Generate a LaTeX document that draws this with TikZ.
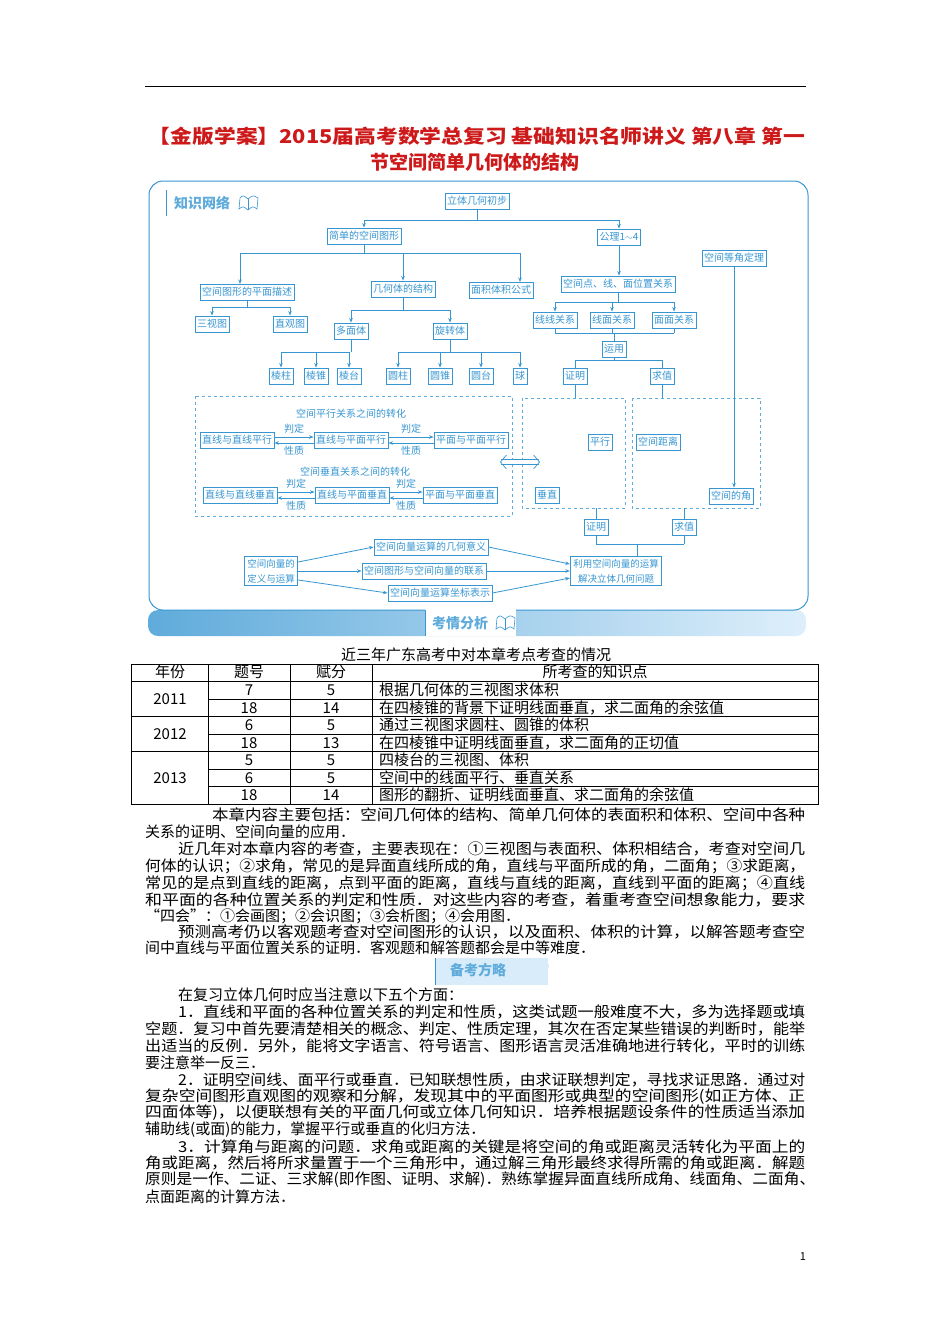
\documentclass[tikz,border=0pt]{standalone}
\usepackage{fontspec}
\usepackage{graphicx}
\newfontfamily\cjk{Noto Sans CJK SC}
\setmainfont{Noto Sans CJK SC}
\usetikzlibrary{arrows.meta,shadings}
\definecolor{dblue}{RGB}{55,150,210}
\definecolor{lblue}{RGB}{200,228,248}
\definecolor{tred}{RGB}{205,25,25}
\newcommand\fline[2]{\resizebox{#1pt}{\height}{#2}}
\begin{document}
\begin{tikzpicture}[x=1pt,y=-1pt,
 box/.style={draw=dblue,line width=0.9pt,fill=white,text=dblue,font=\fontsize{10}{11}\selectfont,inner sep=2pt,minimum height=16pt},
 arr/.style={-{Stealth[length=4.5pt,width=3.5pt]},dblue,line width=0.8pt},
 ln/.style={dblue,line width=0.8pt},
 dbox/.style={draw=dblue!80,dashed,line width=0.8pt},
 lab/.style={text=dblue,font=\fontsize{10}{11}\selectfont,inner sep=0pt},
 body/.style={anchor=west,inner sep=0pt,font=\fontsize{15}{17}\selectfont},
 cell/.style={inner sep=0pt,font=\fontsize{15}{17}\selectfont}]
\useasboundingbox (0,0) rectangle (950,1344);
\fill[white] (0,0) rectangle (950,1344);
% top rule
\draw[line width=0.7pt] (145,86) -- (806,86);
% title
\node[text=tred,font=\bfseries\fontsize{19}{22}\selectfont,inner sep=0pt] (t1) at (477,136) {\fline{656}{【金版学案】2015届高考数学总复习 基础知识名师讲义 第八章 第一}};
\node[text=tred,font=\bfseries\fontsize{19}{22}\selectfont,inner sep=0pt] (t2) at (475,162) {节空间简单几何体的结构};
% frame
\shade[left color=dblue!80,right color=lblue!60,rounded corners=10pt] (148,610) rectangle (806,636);
\draw[dblue,line width=1pt,rounded corners=14pt,fill=white] (149,181) rectangle (808,610);
\fill[white] (425,607) rectangle (516,636);
\draw[dblue,line width=0.8pt] (425,610) -- (425,636);
\node[text=dblue!80,font=\bfseries\fontsize{14}{16}\selectfont] (kq) at (460,623) {考情分析};
\node[text=dblue!80,font=\bfseries\fontsize{14}{16}\selectfont] (zs) at (202,203) {知识网络};
\draw[dblue,line width=1pt] (166,190) -- (166,216);
% book icons
\foreach \bx/\by in {248/203,505/623,538/970}{
 \draw[dblue,line width=0.6pt,fill=white] (\bx-9,\by+6) .. controls (\bx-5,\by+3) .. (\bx,\by+7) .. controls (\bx+5,\by+3) .. (\bx+9,\by+6) -- (\bx+10,\by-5) .. controls (\bx+5,\by-8) .. (\bx,\by-4) .. controls (\bx-5,\by-8) .. (\bx-8,\by-5) -- cycle;
 \draw[dblue,line width=0.6pt] (\bx,\by-4) -- (\bx,\by+7);}
% network nodes
\node[box] (lt) at (477,201) {立体几何初步};
\node[box] (jd) at (364,236) {简单的空间图形};
\node[box] (gl) at (619,237) {公理1$\sim$4};
\node[box] (dj) at (734,258) {空间等角定理};
\node[box] (pm) at (247,292) {空间图形的平面描述};
\node[box] (jg) at (403,289) {几何体的结构};
\node[box] (mj) at (501,290) {面积体积公式};
\node[box] (wz) at (618,284) {空间点、线、面位置关系};
\node[box] (sv) at (212,324) {三视图};
\node[box] (zg) at (290,324) {直观图};
\node[box] (dm) at (351,331) {多面体};
\node[box] (xz) at (450,331) {旋转体};
\node[box] (xx) at (555,320) {线线关系};
\node[box] (xm) at (612,320) {线面关系};
\node[box] (mm) at (674,320) {面面关系};
\node[box] (yy) at (614,349) {运用};
\node[box] (lz) at (281,376) {棱柱};
\node[box] (lzh) at (316,376) {棱锥};
\node[box] (lta) at (349,376) {棱台};
\node[box] (yz) at (398,376) {圆柱};
\node[box] (yzh) at (440,376) {圆锥};
\node[box] (yt) at (481,376) {圆台};
\node[box] (qiu) at (520,376) {球};
\node[box] (zm) at (575,376) {证明};
\node[box] (qz) at (662,376) {求值};
% tree connectors
\draw[ln] (lt.south) -- (lt.south |- 0,220);
\draw[ln] (jd.north |- 0,220) -- (gl.north |- 0,220);
\draw[arr] (jd.north |- 0,220) -- (jd.north);
\draw[arr] (gl.north |- 0,220) -- (gl.north);
\draw[ln] (jd.south) -- (jd.south |- 0,253);
\draw[ln] (240,253) -- (520,253);
\draw[arr] (240,253) -- (240,284);
\draw[arr] (jg.north |- 0,253) -- (jg.north);
\draw[arr] (520,253) -- (520,282);
\draw[ln] (pm.south) -- (pm.south |- 0,307);
\draw[ln] (sv.north |- 0,307) -- (zg.north |- 0,307);
\draw[arr] (sv.north |- 0,307) -- (sv.north);
\draw[arr] (zg.north |- 0,307) -- (zg.north);
\draw[ln] (jg.south) -- (jg.south |- 0,310);
\draw[ln] (dm.north |- 0,310) -- (xz.north |- 0,310);
\draw[arr] (dm.north |- 0,310) -- (dm.north);
\draw[arr] (xz.north |- 0,310) -- (xz.north);
\draw[ln] (dm.south) -- (dm.south |- 0,352);
\draw[ln] (lz.north |- 0,352) -- (lta.north |- 0,352);
\foreach \n in {lz,lzh,lta}{\draw[arr] (\n.north |- 0,352) -- (\n.north);}
\draw[ln] (xz.south) -- (xz.south |- 0,352);
\draw[ln] (yz.north |- 0,352) -- (qiu.north |- 0,352);
\foreach \n in {yz,yzh,yt,qiu}{\draw[arr] (\n.north |- 0,352) -- (\n.north);}
\draw[arr] (gl.south) -- (gl.south |- wz.north);
\draw[ln] (wz.south) -- (wz.south |- 0,302);
\draw[ln] (xx.north |- 0,302) -- (mm.north |- 0,302);
\foreach \n in {xx,xm,mm}{\draw[arr] (\n.north |- 0,302) -- (\n.north);}
\foreach \n in {xx,xm,mm}{\draw[ln] (\n.south) -- (\n.south |- 0,333);}
\draw[ln] (xx.south |- 0,333) -- (mm.south |- 0,333);
\draw[ln] (yy.north |- 0,333) -- (yy.north);
\draw[ln] (yy.south) -- (yy.south |- 0,360);
\draw[ln] (zm.north |- 0,360) -- (qz.north |- 0,360);
\draw[ln] (zm.north |- 0,360) -- (zm.north);
\draw[ln] (qz.north |- 0,360) -- (qz.north);
% dashed boxes
\draw[dbox] (195,396) rectangle (512,516);
\draw[dbox] (522,398) rectangle (625,508);
\draw[dbox] (632,398) rectangle (760,508);
\draw[ln] (zm.south) -- (zm.south |- 0,398);
\draw[ln] (qz.south) -- (qz.south |- 0,398);
% parallel relations
\node[lab] (tp) at (351,414) {空间平行关系之间的转化};
\node[box] (p1) at (237,440) {直线与直线平行};
\node[box] (p2) at (351,440) {直线与平面平行};
\node[box] (p3) at (471,440) {平面与平面平行};
\draw[arr] ([yshift=3pt]p1.east) -- ([yshift=3pt]p2.west) node[lab,midway,above=3pt] (pd1) {判定};
\draw[arr] ([yshift=-3pt]p2.west) -- ([yshift=-3pt]p1.east) node[lab,midway,below=3pt] (xz1) {性质};
\draw[arr] ([yshift=3pt]p2.east) -- ([yshift=3pt]p3.west) node[lab,midway,above=3pt] (pd2) {判定};
\draw[arr] ([yshift=-3pt]p3.west) -- ([yshift=-3pt]p2.east) node[lab,midway,below=3pt] (xz2) {性质};
\node[lab] (tv) at (355,472) {空间垂直关系之间的转化};
\node[box] (v1) at (240,495) {直线与直线垂直};
\node[box] (v2) at (352,495) {直线与平面垂直};
\node[box] (v3) at (460,495) {平面与平面垂直};
\draw[arr] ([yshift=3pt]v1.east) -- ([yshift=3pt]v2.west) node[lab,midway,above=3pt] (pd3) {判定};
\draw[arr] ([yshift=-3pt]v2.west) -- ([yshift=-3pt]v1.east) node[lab,midway,below=3pt] (xz3) {性质};
\draw[arr] ([yshift=3pt]v2.east) -- ([yshift=3pt]v3.west) node[lab,midway,above=3pt] (pd4) {判定};
\draw[arr] ([yshift=-3pt]v3.west) -- ([yshift=-3pt]v2.east) node[lab,midway,below=3pt] (xz4) {性质};
% double arrow
\coordinate (da) at (500,462);
\coordinate (db) at (540,462);
\draw[dblue,line width=0.7pt,double=white,double distance=4pt,{Straight Barb[length=6pt,width=14pt,line width=0.7pt]}-{Straight Barb[length=6pt,width=14pt,line width=0.7pt]}] (da) -- (db);
% middle / right
\node[box] (px) at (600,442) {平行};
\node[box] (cz) at (547,495) {垂直};
\node[box] (kj) at (658,442) {空间距离};
\node[box] (kjj) at (731,496) {空间的角};
\draw[arr] (dj.south) -- (dj.south |- kjj.north);
\node[box] (zm2) at (596,527) {证明};
\node[box] (qz2) at (684,527) {求值};
\draw[ln] (zm2.north) -- (zm2.north |- 0,508);
\draw[ln] (qz2.north) -- (qz2.north |- 0,508);
\draw[ln] (zm2.south) -- (zm2.south |- 0,544);
\draw[ln] (qz2.south) -- (qz2.south |- 0,544);
\draw[ln] (zm2.south |- 0,544) -- (qz2.south |- 0,544);
\node[box,align=center,inner sep=3pt,font=\fontsize{9.5}{15}\selectfont] (ly) at (616,571) {利用空间向量的运算\\解决立体几何问题};
\draw[ln] (ly.north -| 637,0) -- (637,544);
\node[box,align=left,inner sep=3pt,font=\fontsize{9.5}{15}\selectfont] (dy) at (271,571) {空间向量的\\定义与运算};
\node[box] (s1) at (431,547) {空间向量运算的几何意义};
\node[box] (s2) at (424,571) {空间图形与空间向量的联系};
\node[box] (s3) at (440,593) {空间向量运算坐标表示};
\draw[arr] ([yshift=9pt]dy.east) -- (s1.west);
\draw[arr] (dy.east) -- (s2.west);
\draw[arr] ([yshift=-9pt]dy.east) -- (s3.west);
\draw[arr] (s1.east) -- ([yshift=7pt]ly.west);
\draw[arr] (s2.east) -- (ly.west);
\draw[arr] (s3.east) -- ([yshift=-7pt]ly.west);
% table
\node[cell] (cap) at (476,655) {近三年广东高考中对本章考点考查的情况};
\draw[line width=0.6pt] (131,664) rectangle (818,804);
\foreach \xx in {208,290,372}{\draw[line width=0.6pt] (\xx,664) -- (\xx,804);}
\foreach \yy in {681,716,751}{\draw[line width=0.6pt] (131,\yy) -- (818,\yy);}
\foreach \yy in {699,734,769,786}{\draw[line width=0.6pt] (208,\yy) -- (818,\yy);}
\node[cell] (h1) at (170,672) {年份};
\node[cell] (h2) at (249,672) {题号};
\node[cell] (h3) at (331,672) {赋分};
\node[cell] (h4) at (595,672) {所考查的知识点};
\node[cell] (y1) at (170,699) {2011};
\node[cell] (y2) at (170,734) {2012};
\node[cell] (y3) at (170,778) {2013};
\foreach \yy/\q/\f/\k [count=\i] in {690/7/5/根据几何体的三视图求体积,708/18/14/在四棱锥的背景下证明线面垂直，求二面角的余弦值,725/6/5/通过三视图求圆柱、圆锥的体积,743/18/13/在四棱锥中证明线面垂直，求二面角的正切值,760/5/5/四棱台的三视图、体积,778/6/5/空间中的线面平行、垂直关系,795/18/14/图形的翻折、证明线面垂直、求二面角的余弦值}{
 \node[cell] (q\i) at (249,\yy) {\q};
 \node[cell] (f\i) at (331,\yy) {\f};
 \node[cell,anchor=west] (k\i) at (379,\yy) {\k};}
% body text
\node[body] (b1) at (212,815) {\fline{593}{本章内容主要包括：空间几何体的结构、简单几何体的表面积和体积、空间中各种}};
\node[body] (b2) at (145,832) {关系的证明、空间向量的应用．};
\node[body] (b3) at (178,849) {\fline{627}{近几年对本章内容的考查，主要表现在：①三视图与表面积、体积相结合，考查对空间几}};
\node[body] (b4) at (145,866) {\fline{660}{何体的认识；②求角，常见的是异面直线所成的角，直线与平面所成的角，二面角；③求距离，}};
\node[body] (b5) at (145,883) {\fline{660}{常见的是点到直线的距离，点到平面的距离，直线与直线的距离，直线到平面的距离；④直线}};
\node[body] (b6) at (145,900) {\fline{660}{和平面的各种位置关系的判定和性质．对这些内容的考查，着重考查空间想象能力，要求}};
\node[body] (b7) at (145,916) {“四会”：①会画图；②会识图；③会析图；④会用图．};
\node[body] (b8) at (178,932) {\fline{627}{预测高考仍以客观题考查对空间图形的认识，以及面积、体积的计算，以解答题考查空}};
\node[body] (b9) at (145,948) {间中直线与平面位置关系的证明．客观题和解答题都会是中等难度．};
% badge 2
\fill[lblue!70] (435,958) rectangle (548,985);
\draw[dblue,line width=0.8pt] (435,958) -- (435,985);
\node[text=dblue!80,font=\bfseries\fontsize{14}{16}\selectfont] (bk) at (478,970) {备考方略};
\node[body] (c1) at (178,995) {在复习立体几何时应当注意以下五个方面：};
\node[body] (c2) at (178,1012) {\fline{627}{1．直线和平面的各种位置关系的判定和性质，这类试题一般难度不大，多为选择题或填}};
\node[body] (c3) at (145,1029) {\fline{660}{空题．复习中首先要清楚相关的概念、判定、性质定理，其次在否定某些错误的判断时，能举}};
\node[body] (c4) at (145,1046) {\fline{660}{出适当的反例．另外，能将文字语言、符号语言、图形语言灵活准确地进行转化，平时的训练}};
\node[body] (c5) at (145,1063) {要注意举一反三．};
\node[body] (c6) at (178,1080) {\fline{627}{2．证明空间线、面平行或垂直．已知联想性质，由求证联想判定，寻找求证思路．通过对}};
\node[body] (c7) at (145,1097) {\fline{660}{复杂空间图形直观图的观察和分解，发现其中的平面图形或典型的空间图形(如正方体、正}};
\node[body] (c8) at (145,1113) {\fline{660}{四面体等)，以便联想有关的平面几何或立体几何知识．培养根据题设条件的性质适当添加}};
\node[body] (c9) at (145,1130) {辅助线(或面)的能力，掌握平行或垂直的化归方法．};
\node[body] (c10) at (178,1147) {\fline{627}{3．计算角与距离的问题．求角或距离的关键是将空间的角或距离灵活转化为平面上的}};
\node[body] (c11) at (145,1163) {\fline{660}{角或距离，然后将所求量置于一个三角形中，通过解三角形最终求得所需的角或距离．解题}};
\node[body] (c12) at (145,1180) {\fline{670}{原则是一作、二证、三求解(即作图、证明、求解)．熟练掌握异面直线所成角、线面角、二面角、}};
\node[body] (c13) at (145,1197) {点面距离的计算方法．};
\node[font=\fontsize{11}{12}\selectfont] (pg) at (803,1257) {1};
\end{tikzpicture}
\end{document}
